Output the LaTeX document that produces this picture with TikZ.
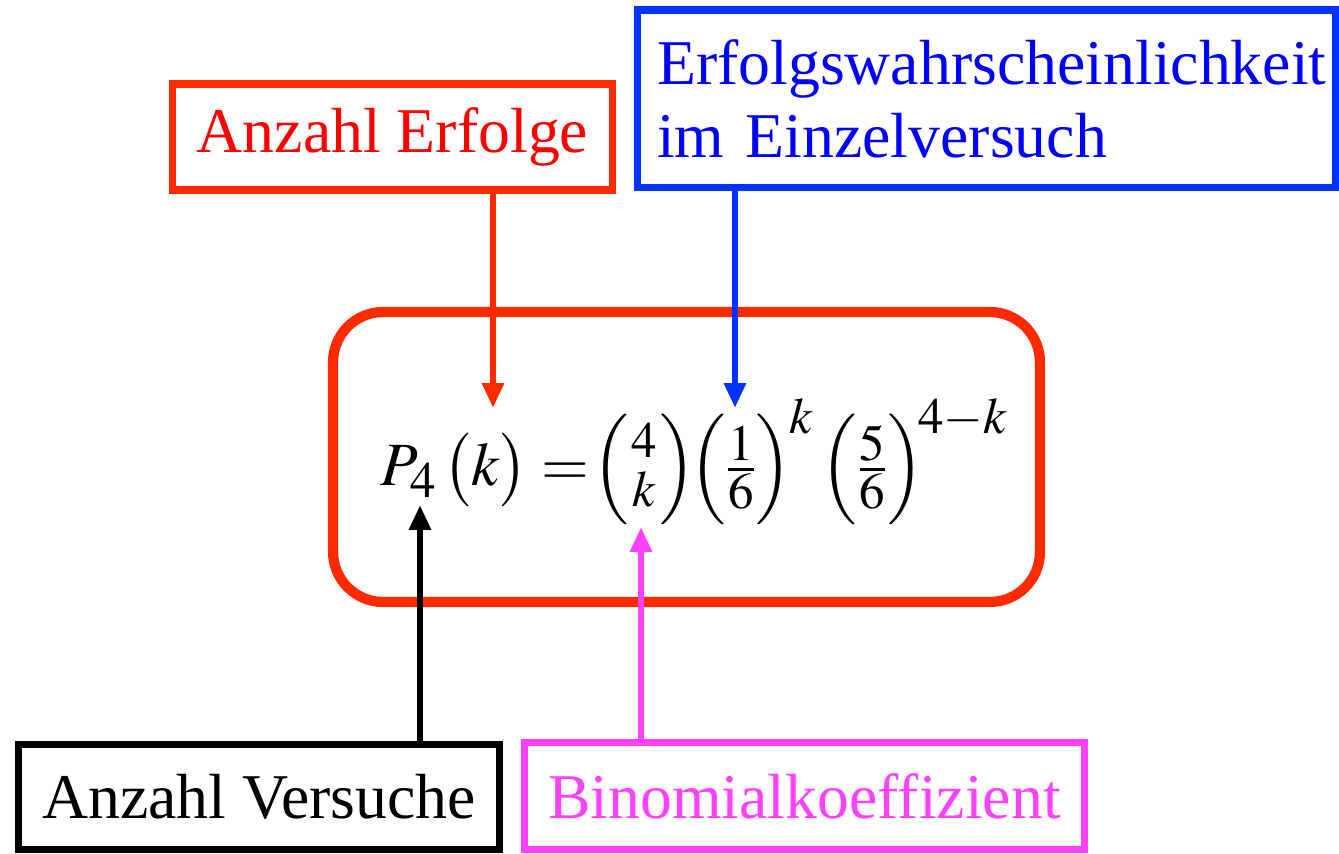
\documentclass[tikz,border=0pt]{standalone}
\usepackage{amsmath}
\usepackage{mathptmx}
\usepackage[no-math]{fontspec}
\setmainfont{Liberation Serif}
\usepackage{xcolor}
\usepackage{tikz}
\usetikzlibrary{arrows.meta, positioning}

\DeclareMathSizes{35}{35}{29}{22}
\definecolor{linered}{RGB}{255,42,0}
\definecolor{textred}{RGB}{255,0,0}
\definecolor{lineblue}{RGB}{0,51,255}
\definecolor{textblue}{RGB}{0,0,255}
\definecolor{pink}{RGB}{255,64,255}

\begin{document}
\begin{tikzpicture}[
    x=0.02cm, y=0.02cm,
    box/.style={rectangle, draw, line width=4pt, inner sep=0pt, align=center, font=\fontsize{36.3}{41.5}\selectfont},
    bigbox/.style={rectangle, draw=linered, line width=5.8pt, rounded corners=1cm, minimum width=14.14cm, minimum height=5.8cm},
    arrow/.style={line width=3.4pt, -{Triangle[length=0.5cm, width=0.42cm]}}
]
\useasboundingbox (0,0) rectangle (1339,853);
\node[bigbox] (rahmen) at (686.5,396) {};
\node[anchor=base west, inner sep=0pt, font=\fontsize{35}{42}\selectfont] (formel) at (380,368)
    {$P_{4}\,\bigl(k\bigr)=\mkern-3mu\Bigl(\genfrac{}{}{0pt}{1}{4}{k}\Bigr)\mkern-2mu\Bigl(\tfrac{1}{6}\Bigr)^{\mkern-1mu k}\mkern2mu\Bigl(\tfrac{5}{6}\Bigr)^{\mkern-2mu 4-k}$};
\node[box, draw=linered, text=textred, minimum width=8.82cm, minimum height=2.12cm] (erfolge) at (392.5,716) {Anzahl Erfolge};
\node[box, draw=lineblue, text=textblue, minimum width=13.98cm, minimum height=3.56cm, text width=13.18cm, align=left] (wahrsch) at (986.5,754) {Erfolgswahrscheinlichkeit\\im Einzelversuch};
\node[box, draw=black, minimum width=9.64cm, minimum height=2.1cm] (versuche) at (259,56) {Anzahl Versuche};
\node[box, draw=pink, text=pink, minimum width=11.22cm, minimum height=2.14cm] (binom) at (804.5,57) {Binomialkoeffizient};

\coordinate (zk) at (493,445);
\coordinate (zp) at (735,445);
\coordinate (zn) at (420,348);
\coordinate (zb) at (641,326);
\draw[arrow, linered] (erfolge.south -| zk) -- (zk);
\draw[arrow, lineblue] (wahrsch.south -| zp) -- (zp);
\draw[arrow, black] (versuche.north -| zn) -- (zn);
\draw[arrow, pink] (binom.north -| zb) -- (zb);
\end{tikzpicture}
\end{document}
